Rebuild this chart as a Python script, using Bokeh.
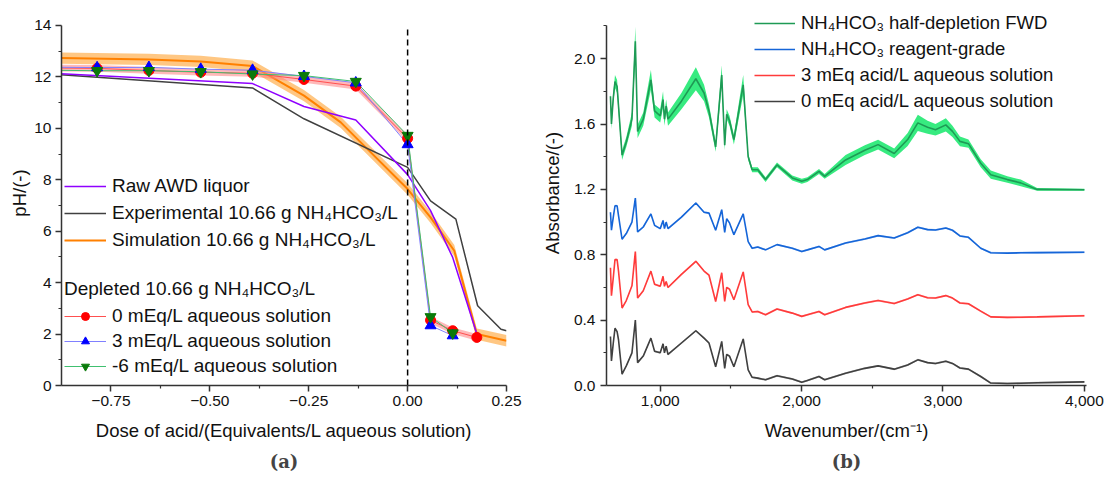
from bokeh.plotting import figure
from bokeh.layouts import row
from bokeh.models import (Legend, LegendItem, FixedTicker, Title,
                          CustomJSTickFormatter, NumeralTickFormatter)
from bokeh.embed import file_html
from bokeh.resources import INLINE

# ---------------- data: panel (a) ----------------
raw_x = [-0.916, -0.392, -0.262, -0.131, 0.0, 0.058, 0.114, 0.175]
raw_y = [12.15, 11.74, 10.85, 10.32, 8.2, 6.8, 4.98, 2.0]

exp_x = [-0.916, -0.392, -0.262, 0.0, 0.058, 0.122, 0.177, 0.236, 0.25]
exp_y = [12.13, 11.57, 10.37, 8.48, 7.18, 6.47, 3.1, 2.19, 2.13]

sim_x = [-0.916, -0.654, -0.523, -0.392, -0.262, -0.169, -0.123, 0.0, 0.058, 0.118, 0.175, 0.25]
sim_y = [12.74, 12.68, 12.6, 12.42, 11.27, 10.23, 9.52, 7.64, 6.54, 5.24, 2.0, 1.74]
sim_err = 0.22

dep_x = [-0.916, -0.785, -0.654, -0.523, -0.392, -0.262, -0.131, 0.0, 0.058, 0.114, 0.175]
dep0_y = [12.35, 12.33, 12.25, 12.18, 12.14, 11.9, 11.64, 9.61, 2.54, 2.13, 1.87]
dep0_err = 0.13
dep3_y = [12.38, 12.36, 12.37, 12.3, 12.26, 12.02, 11.77, 9.37, 2.33, 1.94]
depm6_y = [12.26, 12.24, 12.24, 12.2, 12.11, 12.05, 11.82, 9.72, 2.67, 2.04]

PH_MAX = 14          # top of the pH axis
NEUTRAL_DOSE = 0.0   # dashed reference line

# ---------------- data: panel (b) ----------------
wn = [648, 655, 668, 680, 695, 705, 730, 760, 800, 824, 840, 880, 934, 960, 1000,
      1020, 1030, 1042, 1055, 1150, 1252, 1310, 1345, 1392, 1435, 1456, 1470, 1490,
      1521, 1587, 1622, 1650, 1690, 1745, 1826, 1934, 2001, 2041, 2123, 2163, 2311,
      2447, 2541, 2655, 2750, 2822, 2891, 2947, 3020, 3067, 3120, 3180, 3267, 3338,
      3455, 3550, 3666, 4000]
abs_0meq = [0.30, 0.15, 0.26, 0.35, 0.33, 0.28, 0.07, 0.12, 0.20, 0.40, 0.14, 0.18, 0.29,
            0.21, 0.20, 0.255, 0.20, 0.24, 0.19, 0.26, 0.335, 0.29, 0.26, 0.115, 0.27,
            0.105, 0.19, 0.18, 0.115, 0.285, 0.095, 0.05, 0.045, 0.035, 0.06, 0.04, 0.02,
            0.03, 0.055, 0.035, 0.075, 0.105, 0.12, 0.10, 0.125, 0.157, 0.14, 0.135, 0.148,
            0.135, 0.107, 0.10, 0.055, 0.015, 0.012, 0.014, 0.017, 0.022]
abs_3meq = [0.72, 0.55, 0.66, 0.77, 0.77, 0.70, 0.474, 0.52, 0.61, 0.82, 0.535, 0.58, 0.70,
            0.62, 0.607, 0.668, 0.607, 0.637, 0.60, 0.68, 0.76, 0.70, 0.675, 0.514, 0.69,
            0.514, 0.60, 0.59, 0.525, 0.695, 0.495, 0.45, 0.453, 0.433, 0.468, 0.443, 0.423,
            0.433, 0.453, 0.433, 0.478, 0.505, 0.52, 0.502, 0.53, 0.556, 0.537, 0.535, 0.55,
            0.535, 0.505, 0.50, 0.455, 0.42, 0.417, 0.418, 0.42, 0.427]
abs_reag = [1.06, 0.95, 1.03, 1.10, 1.10, 1.04, 0.895, 0.93, 1.00, 1.147, 0.94, 0.97, 1.05,
            0.98, 0.96, 1.01, 0.96, 1.00, 0.96, 1.03, 1.117, 1.06, 1.055, 0.95, 1.076,
            0.937, 1.02, 0.995, 0.923, 1.05, 0.88, 0.84, 0.847, 0.83, 0.862, 0.84, 0.82,
            0.83, 0.851, 0.83, 0.872, 0.897, 0.917, 0.903, 0.935, 0.968, 0.954, 0.952, 0.964,
            0.95, 0.915, 0.907, 0.84, 0.812, 0.81, 0.812, 0.813, 0.815]
abs_fwd = [1.77, 1.60, 1.76, 1.86, 1.83, 1.71, 1.41, 1.49, 1.63, 2.106, 1.555, 1.63, 1.87,
           1.68, 1.65, 1.75, 1.63, 1.71, 1.63, 1.74, 1.877, 1.79, 1.68, 1.46, 1.90, 1.47,
           1.66, 1.62, 1.505, 1.84, 1.40, 1.32, 1.32, 1.26, 1.35, 1.27, 1.25, 1.26, 1.31,
           1.28, 1.38, 1.44, 1.474, 1.42, 1.505, 1.607, 1.58, 1.565, 1.595, 1.555, 1.494,
           1.48, 1.36, 1.29, 1.26, 1.24, 1.20, 1.198]
fwd_err = [0.03, 0.03, 0.03, 0.04, 0.04, 0.04, 0.03, 0.03, 0.04, 0.09, 0.04, 0.04, 0.06,
           0.04, 0.04, 0.05, 0.04, 0.04, 0.04, 0.05, 0.07, 0.05, 0.04, 0.03, 0.06, 0.03,
           0.03, 0.03, 0.03, 0.06, 0.02, 0.015, 0.015, 0.015, 0.015, 0.015, 0.015, 0.015,
           0.015, 0.015, 0.03, 0.03, 0.03, 0.03, 0.04, 0.05, 0.04, 0.035, 0.04, 0.035,
           0.03, 0.025, 0.025, 0.025, 0.02, 0.02, 0.008, 0.006]
thin_err = 0.006
ABS_MAX = 2.2

FONT = "Liberation Sans"
AX_COL = "#333333"


def style_axes(p):
    p.outline_line_color = None
    p.grid.visible = False
    for ax in p.axis:
        ax.axis_line_width = 1.5
        ax.axis_line_color = AX_COL
        ax.major_tick_line_width = 1.5
        ax.major_tick_line_color = AX_COL
        ax.minor_tick_line_width = 1.2
        ax.minor_tick_line_color = AX_COL
        ax.major_tick_out = 6
        ax.major_tick_in = 0
        ax.minor_tick_out = 3
        ax.minor_tick_in = 0
        ax.major_label_text_font = FONT
        ax.major_label_text_font_size = "15.5px"
        ax.major_label_text_color = "#111111"
        ax.axis_label_text_font = FONT
        ax.axis_label_text_font_size = "18.5px"
        ax.axis_label_text_font_style = "normal"
        ax.axis_label_text_color = "#111111"


def style_legend(leg, spacing, size):
    leg.label_text_font = FONT
    leg.label_text_font_size = size
    leg.label_text_color = "#111111"
    leg.glyph_width = 42
    leg.glyph_height = 20
    leg.label_height = 20
    leg.label_standoff = 6
    leg.spacing = spacing
    leg.padding = 0
    leg.margin = 0
    leg.border_line_alpha = 0
    leg.background_fill_alpha = 0


# Both frames run from the top of the canvas down to y=385 px; the axes stop
# at their top values through their bounds.
# ---------------- panel (a) ----------------
p1 = figure(width=538, height=477, x_range=(-0.875, 0.25), y_range=(0, 14.97),
            output_backend="svg", toolbar_location=None, title=None,
            min_border_left=61, min_border_right=32, min_border_top=0, min_border_bottom=92)
style_axes(p1)
p1.xaxis.axis_label = "Dose of acid/(Equivalents/L aqueous solution)"
p1.yaxis.axis_label = "pH/(-)"
p1.yaxis.bounds = (0, PH_MAX)
p1.xaxis.ticker = FixedTicker(ticks=[-0.75, -0.5, -0.25, 0.0, 0.25],
                              minor_ticks=[-0.625, -0.375, -0.125, 0.125])
p1.xaxis.formatter = CustomJSTickFormatter(code="return tick.toFixed(2).replace('-', '\u2212');")
p1.yaxis.ticker = FixedTicker(ticks=[0, 2, 4, 6, 8, 10, 12, 14],
                              minor_ticks=[1, 3, 5, 7, 9, 11, 13])
p1.xaxis.major_label_standoff = 4
p1.xaxis.axis_label_standoff = 11
p1.yaxis.major_label_standoff = 4
p1.yaxis.axis_label_standoff = 1

p1.varea(x=sim_x, y1=[v - sim_err for v in sim_y], y2=[v + sim_err for v in sim_y],
         fill_color="#FFB45A", fill_alpha=0.75)
r_sim = p1.line(sim_x, sim_y, line_color="#FF8000", line_width=2)
r_exp = p1.line(exp_x, exp_y, line_color="#404040", line_width=1.5)
r_raw = p1.line(raw_x, raw_y, line_color="#8F00FF", line_width=1.5)

p1.varea(x=dep_x, y1=[v - dep0_err for v in dep0_y], y2=[v + dep0_err for v in dep0_y],
         fill_color="#FF8080", fill_alpha=0.55)
l0 = p1.line(dep_x, dep0_y, line_color="#FF5050", line_width=1)
l3 = p1.line(dep_x[:len(dep3_y)], dep3_y, line_color="#8080FF", line_width=1)
l6 = p1.line(dep_x[:len(depm6_y)], depm6_y, line_color="#40C070", line_width=1)
m0 = p1.scatter(dep_x[1:], dep0_y[1:], marker="circle", size=10,
                fill_color="#FF0000", line_color="#FF0000")
m3 = p1.scatter(dep_x[1:len(dep3_y)], dep3_y[1:], marker="triangle", size=11,
                fill_color="#0000FF", line_color="#0000FF")
m6 = p1.scatter(dep_x[1:len(depm6_y)], depm6_y[1:], marker="inverted_triangle", size=11,
                fill_color="#0A7A0A", line_color="#0A7A0A")

p1.segment(x0=[NEUTRAL_DOSE], y0=[0], x1=[NEUTRAL_DOSE], y1=[PH_MAX - 0.15],
           line_color="black", line_dash="6 4", line_width=1.5)

leg1 = Legend(items=[LegendItem(label="Raw AWD liquor", renderers=[r_raw]),
                     LegendItem(label="Experimental 10.66 g NH\u2084HCO\u2083/L", renderers=[r_exp]),
                     LegendItem(label="Simulation 10.66 g NH\u2084HCO\u2083/L", renderers=[r_sim])],
              location=(3, 134))
style_legend(leg1, 5, "19px")
p1.add_layout(leg1)

leg2 = Legend(items=[LegendItem(label="0 mEq/L aqueous solution", renderers=[l0, m0]),
                     LegendItem(label="3 mEq/L aqueous solution", renderers=[l3, m3]),
                     LegendItem(label="-6 mEq/L aqueous solution", renderers=[l6, m6])],
              location=(3, 8), title="Depleted 10.66 g NH\u2084HCO\u2083/L")
style_legend(leg2, 3, "19px")
leg2.title_text_font = FONT
leg2.title_text_font_size = "19px"
leg2.title_text_font_style = "normal"
leg2.title_text_color = "#111111"
leg2.title_standoff = 5
p1.add_layout(leg2)

p1.add_layout(Title(text="(a)", align="center", text_font="DejaVu Serif",
                    text_font_size="18px", text_font_style="bold", standoff=11), "below")

# ---------------- panel (b) ----------------
p2 = figure(width=566, height=477, x_range=(620, 4015), y_range=(0, 2.356),
            output_backend="svg", toolbar_location=None, title=None,
            min_border_left=66, min_border_right=18, min_border_top=0, min_border_bottom=92)
style_axes(p2)
p2.xaxis.axis_label = "Wavenumber/(cm\u207b\u00b9)"
p2.yaxis.axis_label = "Absorbance/(-)"
p2.yaxis.bounds = (0, ABS_MAX)
p2.xaxis.ticker = FixedTicker(ticks=[1000, 2000, 3000, 4000], minor_ticks=[1500, 2500, 3500])
p2.xaxis.formatter = NumeralTickFormatter(format="0,0")
p2.yaxis.ticker = FixedTicker(ticks=[0, 0.4, 0.8, 1.2, 1.6, 2.0],
                              minor_ticks=[0.2, 0.6, 1.0, 1.4, 1.8, 2.2])
p2.yaxis.formatter = CustomJSTickFormatter(code="return tick.toFixed(1);")
p2.xaxis.major_label_standoff = 4
p2.xaxis.axis_label_standoff = 11
p2.yaxis.major_label_standoff = 5
p2.yaxis.axis_label_standoff = 8

series = [(abs_0meq, "#404040", "#A0A0A0"),
          (abs_3meq, "#FF3B3B", "#FFA0A0"),
          (abs_reag, "#1565D8", "#90B8F0")]
rends = []
for vals, col, bcol in series:
    p2.varea(x=wn, y1=[v - thin_err for v in vals], y2=[v + thin_err for v in vals],
             fill_color=bcol, fill_alpha=0.7)
    rends.append(p2.line(wn, vals, line_color=col, line_width=1.6))

p2.varea(x=wn, y1=[v - e for v, e in zip(abs_fwd, fwd_err)],
         y2=[v + e for v, e in zip(abs_fwd, fwd_err)], fill_color="#14E86A", fill_alpha=0.85)
r_fwd = p2.line(wn, abs_fwd, line_color="#1E9A55", line_width=1.6)

leg3 = Legend(items=[LegendItem(label="NH\u2084HCO\u2083 half-depletion FWD", renderers=[r_fwd]),
                     LegendItem(label="NH\u2084HCO\u2083 reagent-grade", renderers=[rends[2]]),
                     LegendItem(label="3 mEq acid/L aqueous solution", renderers=[rends[1]]),
                     LegendItem(label="0 mEq acid/L aqueous solution", renderers=[rends[0]])],
              location=(148, 273))
style_legend(leg3, 4, "18.5px")
leg3.glyph_width = 41
p2.add_layout(leg3)

p2.add_layout(Title(text="(b)", align="center", text_font="DejaVu Serif",
                    text_font_size="18px", text_font_style="bold", standoff=11), "below")

layout = row(p1, p2)
open("out.html", "w").write(file_html(layout, INLINE))
